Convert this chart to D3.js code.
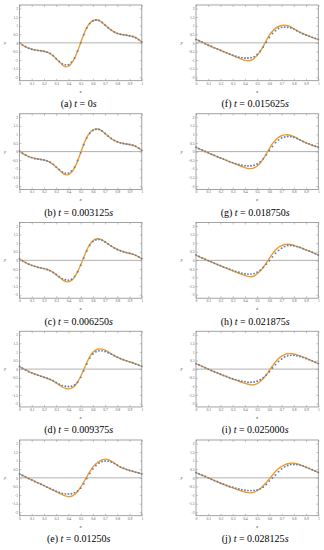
<!DOCTYPE html>
<html><head><meta charset="utf-8">
<script src="https://cdn.jsdelivr.net/npm/d3@7"></script>
<style>body{margin:0;background:#fff}svg{display:block}</style>
</head><body><svg id="c" width="324" height="550"></svg>
<script>
const xGrid = [0,0.025,0.05,0.075,0.1,0.125,0.15,0.175,0.2,0.225,0.25,0.275,0.3,0.325,0.35,0.375,0.4,0.425,0.45,0.475,0.5,0.525,0.55,0.575,0.6,0.625,0.65,0.675,0.7,0.725,0.75,0.775,0.8,0.825,0.85,0.875,0.9,0.925,0.95,0.975,1];
const panelLetters = ["(a)","(b)","(c)","(d)","(e)","(f)","(g)","(h)","(i)","(j)"];
const panelTimes = ["0","0.003125","0.006250","0.009375","0.01250","0.015625","0.018750","0.021875","0.025000","0.028125"];
const xTicks = [0,0.1,0.2,0.3,0.4,0.5,0.6,0.7,0.8,0.9,1];
const xTickLabels = ["0","0.1","0.2","0.3","0.4","0.5","0.6","0.7","0.8","0.9","1"];
const yTicks = [-2,-1.5,-1,-0.5,0,0.5,1,1.5,2];
const yTickLabels = ["-2","-1.5","-1","-0.5","0","0.5","1","1.5","2"];

// exact solution (orange line)
const exactA = [0,-0.13,-0.23,-0.31,-0.37,-0.41,-0.44,-0.46,-0.49,-0.54,-0.62,-0.75,-0.92,-1.1,-1.27,-1.39,-1.36,-1.18,-0.9,-0.48,0,0.48,0.88,1.15,1.29,1.34,1.31,1.19,1.03,0.88,0.74,0.63,0.55,0.5,0.47,0.44,0.41,0.37,0.3,0.19,0.05];
const exactB = [0.03,-0.1,-0.2,-0.29,-0.35,-0.4,-0.43,-0.46,-0.49,-0.54,-0.62,-0.74,-0.9,-1.07,-1.23,-1.34,-1.34,-1.2,-0.95,-0.55,-0.07,0.42,0.83,1.1,1.26,1.32,1.3,1.2,1.05,0.9,0.76,0.65,0.57,0.51,0.47,0.44,0.41,0.37,0.31,0.2,0.07];
const exactC = [0.09,-0.03,-0.13,-0.22,-0.29,-0.35,-0.4,-0.44,-0.48,-0.53,-0.6,-0.7,-0.83,-0.98,-1.12,-1.22,-1.25,-1.17,-0.97,-0.67,-0.27,0.17,0.6,0.93,1.14,1.24,1.25,1.19,1.08,0.95,0.83,0.72,0.63,0.56,0.5,0.45,0.41,0.36,0.29,0.2,0.1];
const exactD = [0.15,0.05,-0.05,-0.14,-0.22,-0.29,-0.35,-0.41,-0.47,-0.53,-0.6,-0.69,-0.8,-0.92,-1.04,-1.12,-1.15,-1.11,-0.98,-0.75,-0.43,-0.04,0.37,0.73,0.98,1.12,1.17,1.16,1.1,1.0,0.89,0.79,0.69,0.61,0.54,0.48,0.42,0.37,0.3,0.23,0.16];
const exactE = [0.23,0.14,0.05,-0.04,-0.12,-0.21,-0.29,-0.37,-0.45,-0.54,-0.62,-0.71,-0.8,-0.89,-0.97,-1.05,-1.09,-1.07,-0.97,-0.79,-0.54,-0.25,0.06,0.36,0.62,0.82,0.95,1.05,1.09,1.06,0.97,0.85,0.73,0.63,0.55,0.49,0.43,0.38,0.33,0.28,0.23];
const exactF = [0.2,0.12,0.04,-0.05,-0.14,-0.21,-0.29,-0.36,-0.43,-0.51,-0.58,-0.66,-0.73,-0.81,-0.88,-0.96,-1.02,-1.04,-1.01,-0.9,-0.73,-0.49,-0.2,0.13,0.45,0.68,0.84,0.95,1.01,1.03,1.0,0.93,0.82,0.71,0.61,0.53,0.46,0.39,0.32,0.26,0.2];
const exactG = [0.25,0.17,0.09,0.01,-0.07,-0.15,-0.22,-0.3,-0.37,-0.44,-0.51,-0.59,-0.66,-0.73,-0.8,-0.87,-0.93,-0.98,-0.99,-0.95,-0.84,-0.66,-0.42,-0.13,0.18,0.46,0.68,0.83,0.92,0.97,0.98,0.94,0.87,0.78,0.68,0.59,0.51,0.44,0.37,0.31,0.25];
const exactH = [0.31,0.22,0.14,0.06,-0.02,-0.09,-0.17,-0.24,-0.31,-0.39,-0.46,-0.54,-0.61,-0.68,-0.75,-0.82,-0.88,-0.93,-0.95,-0.91,-0.78,-0.62,-0.41,-0.15,0.12,0.38,0.6,0.76,0.86,0.92,0.94,0.92,0.87,0.81,0.75,0.68,0.61,0.54,0.47,0.39,0.31];
const exactI = [0.32,0.24,0.16,0.08,0.0,-0.08,-0.15,-0.22,-0.3,-0.37,-0.44,-0.51,-0.58,-0.64,-0.71,-0.77,-0.83,-0.88,-0.91,-0.91,-0.84,-0.72,-0.55,-0.33,-0.08,0.18,0.42,0.61,0.75,0.84,0.89,0.9,0.88,0.83,0.77,0.7,0.63,0.55,0.48,0.4,0.32];
const exactJ = [0.31,0.23,0.15,0.08,0.0,-0.08,-0.16,-0.23,-0.31,-0.38,-0.45,-0.52,-0.58,-0.65,-0.71,-0.77,-0.82,-0.86,-0.87,-0.84,-0.74,-0.62,-0.45,-0.27,-0.06,0.16,0.37,0.54,0.66,0.76,0.82,0.85,0.85,0.82,0.76,0.7,0.62,0.55,0.47,0.39,0.31];

// numerical solution (blue dots)
const numA = [0,-0.13,-0.23,-0.31,-0.37,-0.41,-0.44,-0.46,-0.49,-0.54,-0.62,-0.75,-0.92,-1.08,-1.22,-1.28,-1.27,-1.12,-0.88,-0.47,0,0.47,0.86,1.12,1.27,1.32,1.3,1.19,1.03,0.88,0.74,0.63,0.55,0.5,0.47,0.44,0.41,0.37,0.3,0.19,0.05];
const numB = [0.03,-0.1,-0.2,-0.29,-0.35,-0.4,-0.43,-0.46,-0.49,-0.54,-0.62,-0.74,-0.9,-1.05,-1.18,-1.25,-1.25,-1.13,-0.9,-0.52,-0.06,0.4,0.8,1.07,1.23,1.3,1.29,1.2,1.05,0.9,0.76,0.65,0.57,0.51,0.47,0.44,0.41,0.37,0.31,0.2,0.07];
const numC = [0.09,-0.03,-0.13,-0.22,-0.29,-0.35,-0.4,-0.44,-0.48,-0.53,-0.6,-0.7,-0.82,-0.95,-1.06,-1.13,-1.15,-1.1,-0.93,-0.66,-0.28,0.14,0.55,0.88,1.09,1.19,1.21,1.17,1.07,0.95,0.83,0.72,0.63,0.56,0.5,0.45,0.41,0.36,0.29,0.2,0.1];
const numD = [0.15,0.05,-0.05,-0.14,-0.22,-0.29,-0.35,-0.41,-0.47,-0.53,-0.6,-0.68,-0.78,-0.88,-0.96,-1.0,-1.01,-0.99,-0.92,-0.76,-0.48,-0.1,0.3,0.64,0.88,1.01,1.06,1.06,1.02,0.95,0.87,0.78,0.69,0.61,0.54,0.48,0.42,0.37,0.3,0.23,0.16];
const numE = [0.23,0.14,0.05,-0.04,-0.12,-0.21,-0.29,-0.37,-0.45,-0.54,-0.62,-0.7,-0.78,-0.85,-0.9,-0.93,-0.94,-0.92,-0.86,-0.76,-0.6,-0.34,-0.04,0.26,0.52,0.72,0.86,0.95,0.98,0.97,0.92,0.84,0.74,0.64,0.56,0.49,0.43,0.38,0.33,0.28,0.23];
const numF = [0.2,0.12,0.04,-0.05,-0.14,-0.21,-0.29,-0.36,-0.43,-0.51,-0.58,-0.65,-0.72,-0.78,-0.83,-0.86,-0.88,-0.88,-0.86,-0.8,-0.68,-0.49,-0.24,0.04,0.31,0.54,0.71,0.83,0.9,0.92,0.91,0.87,0.8,0.71,0.61,0.53,0.46,0.39,0.32,0.26,0.2];
const numG = [0.25,0.17,0.09,0.01,-0.07,-0.15,-0.22,-0.3,-0.37,-0.44,-0.51,-0.58,-0.64,-0.7,-0.75,-0.79,-0.82,-0.83,-0.82,-0.79,-0.72,-0.6,-0.42,-0.19,0.06,0.3,0.52,0.68,0.79,0.85,0.88,0.87,0.83,0.76,0.68,0.59,0.51,0.44,0.37,0.31,0.25];
const numH = [0.31,0.22,0.14,0.06,-0.02,-0.09,-0.17,-0.24,-0.31,-0.38,-0.45,-0.52,-0.58,-0.64,-0.69,-0.74,-0.78,-0.8,-0.8,-0.77,-0.69,-0.57,-0.41,-0.22,-0.02,0.2,0.41,0.58,0.71,0.8,0.86,0.87,0.85,0.8,0.75,0.68,0.61,0.54,0.47,0.39,0.31];
const numI = [0.32,0.24,0.16,0.08,0.0,-0.08,-0.15,-0.22,-0.3,-0.37,-0.43,-0.5,-0.56,-0.61,-0.66,-0.7,-0.73,-0.76,-0.76,-0.75,-0.7,-0.62,-0.5,-0.34,-0.15,0.06,0.26,0.44,0.59,0.7,0.77,0.8,0.8,0.77,0.73,0.68,0.62,0.55,0.48,0.4,0.32];
const numJ = [0.31,0.23,0.15,0.08,0.0,-0.08,-0.16,-0.23,-0.31,-0.37,-0.44,-0.5,-0.55,-0.6,-0.65,-0.69,-0.72,-0.74,-0.74,-0.73,-0.7,-0.64,-0.54,-0.39,-0.19,-0.01,0.17,0.36,0.52,0.64,0.72,0.77,0.78,0.77,0.74,0.69,0.62,0.55,0.47,0.39,0.31];

const exactSeries = [exactA,exactB,exactC,exactD,exactE,exactF,exactG,exactH,exactI,exactJ];
const numSeries = [numA,numB,numC,numD,numE,numF,numG,numH,numI,numJ];

const svg = d3.select("#c");
const colLeft = [19.5, 196];
const plotW = 122.3;
const rowTop0 = 5, rowStep = 108.75, plotH = 75.7;
const ORANGE = "#f39b2a", BLUE = "#5b7fbd", FRAME = "#8c8c8c";

panelLetters.forEach((letter, p) => {
  const col = p < 5 ? 0 : 1, row = p % 5;
  const x0 = colLeft[col], y0 = rowTop0 + row * rowStep;
  const xs = d3.scaleLinear().domain([0, 1]).range([x0, x0 + plotW]);
  const ys = d3.scaleLinear().domain([-2.2, 2.2]).range([y0 + plotH, y0]);
  const g = svg.append("g");

  g.append("line").attr("x1", xs(0)).attr("x2", xs(1)).attr("y1", ys(0)).attr("y2", ys(0))
    .attr("stroke", "#a8a8a8").attr("stroke-width", 0.9);

  const xAxis = d3.axisBottom(xs).tickValues(xTicks).tickSize(-2).tickPadding(1.5)
    .tickFormat((d, i) => xTickLabels[i]);
  const yAxis = d3.axisLeft(ys).tickValues(yTicks).tickSize(-2).tickPadding(1.5)
    .tickFormat((d, i) => yTickLabels[i]);
  const gx = g.append("g").attr("transform", `translate(0,${ys(-2.2)})`).call(xAxis);
  const gy = g.append("g").attr("transform", `translate(${xs(0)},0)`).call(yAxis);
  const gxt = g.append("g").attr("transform", `translate(0,${ys(2.2)})`).call(d3.axisTop(xs).tickValues(xTicks).tickSize(-2).tickFormat(""));
  const gyr = g.append("g").attr("transform", `translate(${xs(1)},0)`).call(d3.axisRight(ys).tickValues(yTicks).tickSize(-2).tickFormat(""));
  [gx, gy, gxt, gyr].forEach(a => {
    a.select(".domain").remove();
    a.selectAll(".tick line").attr("stroke", FRAME).attr("stroke-width", 0.5);
    a.selectAll(".tick text").attr("fill", "#555").attr("font-size", 3.6)
      .attr("font-family", "Liberation Serif, serif");
  });
  g.append("rect").attr("x", xs(0)).attr("y", ys(2.2)).attr("width", xs(1) - xs(0)).attr("height", ys(-2.2) - ys(2.2))
    .attr("fill", "none").attr("stroke", FRAME).attr("stroke-width", 0.8);

  const line = d3.line().x((d, i) => xs(xGrid[i])).y(d => ys(d)).curve(d3.curveCatmullRom);
  g.append("path").datum(exactSeries[p]).attr("d", line).attr("fill", "none")
    .attr("stroke", ORANGE).attr("stroke-width", 1.4);
  g.selectAll("circle.n").data(numSeries[p]).join("circle").attr("class", "n")
    .attr("cx", (d, i) => xs(xGrid[i])).attr("cy", d => ys(d)).attr("r", 0.95).attr("fill", BLUE);

  g.append("text").attr("x", x0 - 15.5).attr("y", ys(0) + 1).attr("font-size", 5)
    .attr("font-style", "italic").attr("font-family", "Liberation Serif, serif").attr("fill", "#444").text("y");
  g.append("text").attr("x", (xs(0) + xs(1)) / 2).attr("y", ys(-2.2) + 12).attr("font-size", 5)
    .attr("text-anchor", "middle").attr("font-style", "italic").attr("font-family", "Liberation Serif, serif").attr("fill", "#444").text("x");

  const cap = g.append("text").attr("x", (xs(0) + xs(1)) / 2 - 2).attr("y", y0 + 102)
    .attr("text-anchor", "middle").attr("font-size", 10).attr("font-family", "Liberation Serif, serif").attr("fill", "#000");
  cap.append("tspan").text(letter + " ");
  cap.append("tspan").attr("font-style", "italic").text("t");
  cap.append("tspan").text(" = " + panelTimes[p]);
  cap.append("tspan").attr("font-style", "italic").text("s");
});
</script></body></html>
